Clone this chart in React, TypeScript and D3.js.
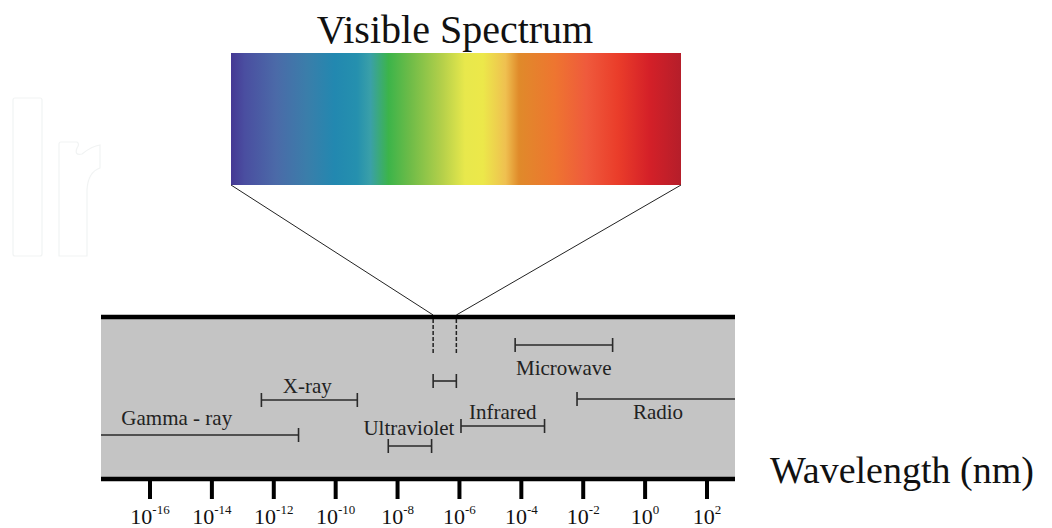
import React from 'react';
import * as d3 from 'd3';

// wavelength bands, log10 of nm
const bandNames = ['Gamma - ray', 'X-ray', 'Ultraviolet', 'Visible', 'Infrared', 'Microwave', 'Radio'];
const bandFrom = [-18, -12.4, -8.3, -6.85, -5.95, -4.2, -2.2];
const bandTo = [-11.2, -9.3, -6.9, -6.1, -3.25, -1.05, 3];
const bandLabels = ['Gamma - ray', 'X-ray', 'Ultraviolet', '', 'Infrared', 'Microwave', 'Radio'];

const tickExponents = [-16, -14, -12, -10, -8, -6, -4, -2, 0, 2];

const spectrumOffsets = [0, 0.03, 0.1, 0.17, 0.23, 0.28, 0.31, 0.35, 0.4, 0.47, 0.52, 0.56, 0.61, 0.64, 0.72, 0.79, 0.86, 0.93, 1];
const spectrumColors = ['#453894', '#4a4ea0', '#4b6aa8', '#3a7eaa', '#2288b0', '#2590ae', '#3aa0a8', '#3cb44a', '#70bc48', '#b5d04a', '#e8e84c', '#ece84a', '#efc050', '#e08a2a', '#ee7530', '#ef5a3c', '#ea3d2a', '#d42028', '#b51e2a'];

// layout: row of each band line, label offset
const rowY: Record<string, number> = {
  'Gamma - ray': 435, 'X-ray': 400, 'Ultraviolet': 446, 'Visible': 381,
  'Infrared': 426, 'Microwave': 345, 'Radio': 399,
};
const labelPos: Record<string, [number, number]> = {
  'Gamma - ray': [-23, -10], 'X-ray': [-2, -7], 'Ultraviolet': [-1, -11],
  'Infrared': [0, -7], 'Microwave': [0, 30], 'Radio': [2, 20],
};

const W = 1052, H = 528;
const boxLeft = 101, boxRight = 735, boxTop = 317, boxBottom = 479;
const spec = { x0: 231, x1: 681, y0: 53, y1: 185 };

export default function App() {
  const x = d3.scaleLog().domain([1e-16, 1e2]).range([150, 707]);
  const xe = (e: number) => x(Math.pow(10, e));
  const serif = "'Liberation Serif', 'DejaVu Serif', 'Times New Roman', Times, serif";

  const bands = bandNames.map((name, i) => {
    const a = Math.max(boxLeft, xe(bandFrom[i]));
    const b = Math.min(boxRight, xe(bandTo[i]));
    return { name, label: bandLabels[i], a, b, y: rowY[name], openA: xe(bandFrom[i]) < boxLeft, openB: xe(bandTo[i]) > boxRight };
  });
  const vis = bands.find(d => d.name === 'Visible')!;

  return (
    <svg width={W} height={H} style={{ position: 'absolute', left: 0, top: 0, background: '#fff' }}>
      <defs>
        <linearGradient id="spec" x1="0" x2="1" y1="0" y2="0">
          {spectrumOffsets.map((o, i) => (
            <stop key={i} offset={o} stopColor={spectrumColors[i]} />
          ))}
        </linearGradient>
      </defs>

      {/* faint watermark */}
      <g fill="none" stroke="#f1f3f3" strokeWidth={1.2}>
        <rect x={13} y={98} width={29} height={158} rx={2} />
        <path d="M59,256 L59,144 Q59,142 61,142 L77,142 Q80,144 77,148 Q74,156 82,154 Q92,146 100,145 L100,168 Q88,172 87,190 L87,256 Z" />
      </g>

      <text x={455} y={43} textAnchor="middle" style={{ fontFamily: serif }} fontSize={40} fill="#111">Visible Spectrum</text>
      <rect x={spec.x0} y={spec.y0} width={spec.x1 - spec.x0} height={spec.y1 - spec.y0} fill="url(#spec)" />

      {/* connectors */}
      <line x1={vis.a} y1={boxTop - 2} x2={spec.x0} y2={spec.y1} stroke="#222" strokeWidth={1} />
      <line x1={vis.b} y1={boxTop - 2} x2={spec.x1} y2={spec.y1} stroke="#222" strokeWidth={1} />

      {/* band box */}
      <rect x={boxLeft} y={boxTop} width={boxRight - boxLeft} height={boxBottom - boxTop} fill="#c4c4c4" />
      <line x1={boxLeft} x2={boxRight} y1={boxTop} y2={boxTop} stroke="#000" strokeWidth={4.5} />
      <line x1={boxLeft} x2={boxRight} y1={boxBottom} y2={boxBottom} stroke="#000" strokeWidth={4.5} />

      {[vis.a, vis.b].map((vx, i) => (
        <line key={i} x1={vx} x2={vx} y1={boxTop + 2} y2={355} stroke="#222" strokeWidth={1.5} strokeDasharray="4,2" />
      ))}

      {bands.map(d => (
        <g key={d.name} stroke="#2a2a2a" strokeWidth={1.6}>
          <line x1={d.a} x2={d.b} y1={d.y} y2={d.y} />
          {!d.openA && <line x1={d.a} x2={d.a} y1={d.y - 7} y2={d.y + 7} />}
          {!d.openB && <line x1={d.b} x2={d.b} y1={d.y - 7} y2={d.y + 7} />}
        </g>
      ))}
      {bands.filter(d => d.label).map(d => {
        const [dx, dy] = labelPos[d.name];
        return (
          <text key={d.name} x={(d.a + d.b) / 2 + dx} y={d.y + dy} textAnchor="middle"
            style={{ fontFamily: serif }} fontSize={21} fill="#222">{d.label}</text>
        );
      })}

      {/* axis */}
      {tickExponents.map(e => (
        <g key={e}>
          <line x1={xe(e)} x2={xe(e)} y1={boxBottom} y2={499} stroke="#000" strokeWidth={4} />
          <text x={xe(e)} y={524} textAnchor="middle" style={{ fontFamily: serif }} fontSize={22} fill="#111">
            10<tspan dy={-10} fontSize={13}>{e}</tspan>
          </text>
        </g>
      ))}
      <text x={770} y={483} style={{ fontFamily: serif }} fontSize={38} fill="#111">Wavelength (nm)</text>
    </svg>
  );
}
